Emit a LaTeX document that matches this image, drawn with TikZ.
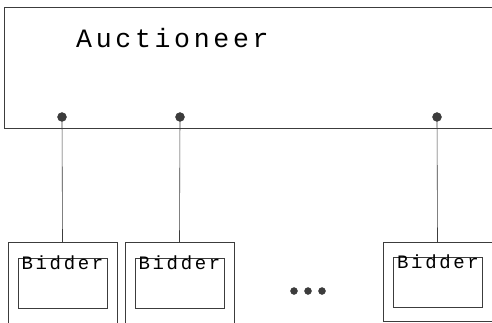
\documentclass[tikz,border=0pt]{standalone}
\usepackage{fontspec}
\newfontfamily\boxfont[LetterSpace=14]{Liberation Mono}
\definecolor{InkGray}{RGB}{60, 60, 60}
\usetikzlibrary{arrows.meta, positioning}

\begin{document}
\begin{tikzpicture}[x=1pt, y=-1pt, every node/.style={font=\boxfont},
    frame/.style={draw=InkGray, line width=0.6pt},
    port/.style={circle, fill=InkGray, draw=InkGray, minimum size=9pt, inner sep=0pt},
    gap/.style={circle, fill=InkGray, draw=InkGray, minimum size=7pt, inner sep=0pt},
    outerbox/.style={frame, minimum width=109pt, minimum height=90pt, inner sep=0pt},
    innerbox/.style={frame, minimum width=89pt, inner sep=1pt, text height=10.5pt, text depth=37.5pt, font=\boxfont\fontsize{19}{19}\selectfont}]
    \useasboundingbox (0,0) rectangle (492,322);
    \clip (0,0) rectangle (492,322);
    % auctioneer
    \node[frame, minimum width=496pt, minimum height=121pt] (auct) at (252,67.5) {};
    \node[anchor=base west, inner sep=0pt, font=\boxfont\fontsize{26.5}{26.5}\selectfont] (auctlabel) at (76,47) {Auctioneer};
    \node[port] (p1) at (62,117) {};
    \node[port] (p2) at (180,117) {};
    \node[port] (p3) at (437,117) {};
    % bidders
    \node[outerbox, anchor=north] (b1) at (62.5,242) {};
    \node[outerbox, anchor=north] (b2) at (179.5,242) {};
    \node[outerbox, anchor=north, minimum height=79pt] (b3) at (437.5,242) {};
    \node[innerbox, anchor=north] (bi1) at (62.5,258) {Bidder};
    \node[innerbox, anchor=north] (bi2) at (179.5,258) {Bidder};
    \node[innerbox, anchor=north] (bi3) at (438,257) {Bidder};
    \node[gap] (g1) at (294,291) {};
    \node[gap] (g2) at (308,291) {};
    \node[gap] (g3) at (322,291) {};
    \draw[frame] (p1) -- (b1.north);
    \draw[frame] (p2) -- (b2.north);
    \draw[frame] (p3) -- (b3.north);
\end{tikzpicture}
\end{document}
